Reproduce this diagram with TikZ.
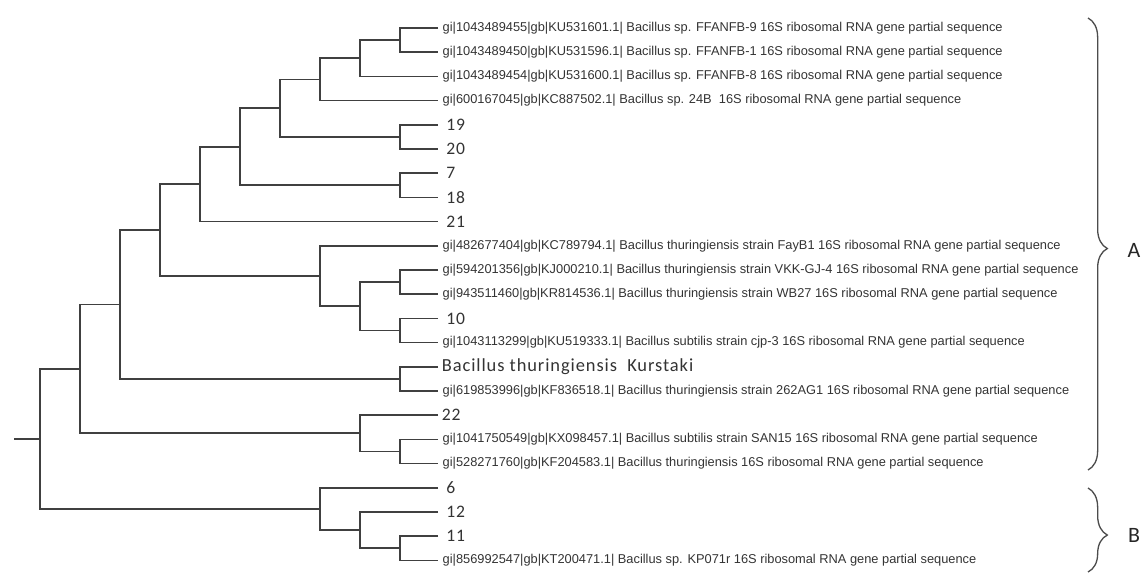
\documentclass[tikz,border=0pt]{standalone}
\usepackage{fontspec}
\setmainfont{Liberation Sans}
\newfontfamily\numfont[LetterSpace=5]{Carlito}
\usetikzlibrary{decorations.pathreplacing}

\begin{document}
\begin{tikzpicture}[x=0.02cm,y=-0.02cm,
	branch/.style={draw=black!75,line width=1pt},
	seqname/.style={anchor=west,inner xsep=2.5pt,inner ysep=0pt,text=black!80,font=\fontsize{7.3}{8}\selectfont},
	isolate/.style={anchor=west,inner xsep=4.5pt,inner ysep=0pt,text=black!80,font=\numfont\fontsize{10}{12}\selectfont},
	clade/.style={draw=black!70,line width=0.75pt,decorate,decoration={brace,amplitude=11pt,aspect=#1}},
	cladename/.style={text=black!85,font=\numfont\fontsize{12.5}{14}\selectfont}]
	\useasboundingbox (0,0) rectangle (1144,575);

	% leaves
	\node[seqname] (l0) at (438,28) {gi|1043489455|gb|KU531601.1| Bacillus sp. FFANFB-9 16S ribosomal RNA gene partial sequence};
	\node[seqname] (l1) at (438,52.2) {gi|1043489450|gb|KU531596.1| Bacillus sp. FFANFB-1 16S ribosomal RNA gene partial sequence};
	\node[seqname] (l2) at (438,76.4) {gi|1043489454|gb|KU531600.1| Bacillus sp. FFANFB-8 16S ribosomal RNA gene partial sequence};
	\node[seqname] (l3) at (438,100.6) {gi|600167045|gb|KC887502.1| Bacillus sp. 24B\ \ 16S ribosomal RNA gene partial sequence};
	\node[isolate] (l4) at (438,124.8) {19};
	\node[isolate] (l5) at (438,149) {20};
	\node[isolate] (l6) at (438,173.2) {7};
	\node[isolate] (l7) at (438,197.4) {18};
	\node[isolate] (l8) at (438,221.6) {21};
	\node[seqname] (l9) at (438,245.8) {gi|482677404|gb|KC789794.1| Bacillus thuringiensis strain FayB1 16S ribosomal RNA gene partial sequence};
	\node[seqname] (l10) at (438,270) {gi|594201356|gb|KJ000210.1| Bacillus thuringiensis strain VKK-GJ-4 16S ribosomal RNA gene partial sequence};
	\node[seqname] (l11) at (438,294.2) {gi|943511460|gb|KR814536.1| Bacillus thuringiensis strain WB27 16S ribosomal RNA gene partial sequence};
	\node[isolate] (l12) at (438,318.4) {10};
	\node[seqname] (l13) at (438,342.6) {gi|1043113299|gb|KU519333.1| Bacillus subtilis strain cjp-3 16S ribosomal RNA gene partial sequence};
	\node[isolate,inner xsep=2pt,font=\numfont\fontsize{10.5}{12}\selectfont] (l14) at (438,366.8) {Bacillus thuringiensis\ \ Kurstaki};
	\node[seqname] (l15) at (438,391) {gi|619853996|gb|KF836518.1| Bacillus thuringiensis strain 262AG1 16S ribosomal RNA gene partial sequence};
	\node[isolate,inner xsep=2pt] (l16) at (438,415.2) {22};
	\node[seqname] (l17) at (438,439.4) {gi|1041750549|gb|KX098457.1| Bacillus subtilis strain SAN15 16S ribosomal RNA gene partial sequence};
	\node[seqname] (l18) at (438,463.6) {gi|528271760|gb|KF204583.1| Bacillus thuringiensis 16S ribosomal RNA gene partial sequence};
	\node[isolate] (l19) at (438,487.8) {6};
	\node[isolate] (l20) at (438,512) {12};
	\node[isolate] (l21) at (438,536.2) {11};
	\node[seqname] (l22) at (438,560.4) {gi|856992547|gb|KT200471.1| Bacillus sp. KP071r 16S ribosomal RNA gene partial sequence};

	% inner nodes
	\coordinate (a1) at (400,40.1);
	\coordinate (a2) at (360,58.25);
	\coordinate (a3) at (320,79.4);
	\coordinate (a4) at (400,136.9);
	\coordinate (a5) at (280,108.15);
	\coordinate (a6) at (400,185.3);
	\coordinate (a7) at (240,146.7);
	\coordinate (a8) at (200,184.2);
	\coordinate (b1) at (400,282.1);
	\coordinate (b2) at (400,330.5);
	\coordinate (b3) at (360,306.3);
	\coordinate (b4) at (320,276.05);
	\coordinate (b5) at (160,230.1);
	\coordinate (b6) at (400,378.9);
	\coordinate (b7) at (120,304.5);
	\coordinate (c1) at (400,451.5);
	\coordinate (c2) at (360,433.35);
	\coordinate (c3) at (80,368.9);
	\coordinate (d1) at (400,548.3);
	\coordinate (d2) at (360,530.15);
	\coordinate (d3) at (320,509);
	\coordinate (r) at (40,438.9);
	\coordinate (stub) at (14,438.9);

	% branches
	\draw[branch] (l0.west) -| (a1) |- (l1.west);
	\draw[branch] (a1) -| (a2) |- (l2.west);
	\draw[branch] (a2) -| (a3) |- (l3.west);
	\draw[branch] (l4.west) -| (a4) |- (l5.west);
	\draw[branch] (a3) -| (a5) |- (a4);
	\draw[branch] (l6.west) -| (a6) |- (l7.west);
	\draw[branch] (a5) -| (a7) |- (a6);
	\draw[branch] (a7) -| (a8) |- (l8.west);
	\draw[branch] (l10.west) -| (b1) |- (l11.west);
	\draw[branch] (l12.west) -| (b2) |- (l13.west);
	\draw[branch] (b1) -| (b3) |- (b2);
	\draw[branch] (l9.west) -| (b4) |- (b3);
	\draw[branch] (a8) -| (b5) |- (b4);
	\draw[branch] (l14.west) -| (b6) |- (l15.west);
	\draw[branch] (b5) -| (b7) |- (b6);
	\draw[branch] (l17.west) -| (c1) |- (l18.west);
	\draw[branch] (l16.west) -| (c2) |- (c1);
	\draw[branch] (b7) -| (c3) |- (c2);
	\draw[branch] (l21.west) -| (d1) |- (l22.west);
	\draw[branch] (l20.west) -| (d2) |- (d1);
	\draw[branch] (l19.west) -| (d3) |- (d2);
	\draw[branch] (c3) -| (r) |- (d3);
	\draw[branch] (stub) -- (r);

	% clades
	\coordinate (Atop) at (1088,18);
	\coordinate (Abot) at (1088,470);
	\coordinate (Btop) at (1088,488);
	\coordinate (Bbot) at (1088,572);
	\draw[clade=0.51] (Atop) -- (Abot);
	\draw[clade=0.56] (Btop) -- (Bbot);
	\node[cladename] (labA) at (1134,250) {A};
	\node[cladename] (labB) at (1134,535) {B};
\end{tikzpicture}
\end{document}
